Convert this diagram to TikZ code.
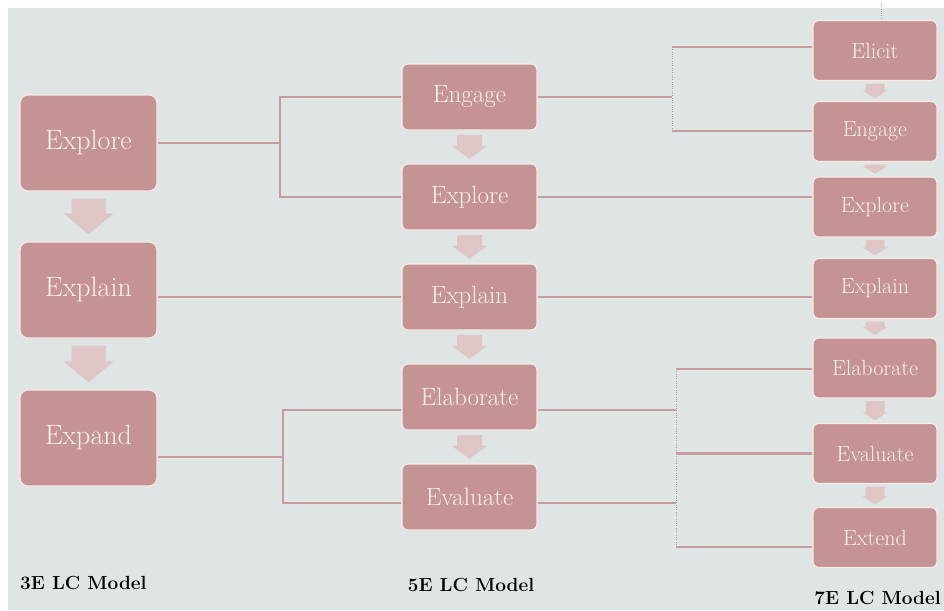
\documentclass[tikz,border=0pt]{standalone}
\usetikzlibrary{calc}
\definecolor{pagebg}{HTML}{DFE5E5}
\definecolor{boxfill}{HTML}{C59393}
\definecolor{boxline}{HTML}{F7EAE4}
\definecolor{boxtext}{HTML}{FBF2EE}
\definecolor{arrowc}{HTML}{DEC6C7}
\definecolor{connc}{HTML}{C69D9C}
\definecolor{dotc}{HTML}{9EA3A4}

% block arrow between two stacked boxes:
% #1 upper node, #2 lower node, #3 shaft half-width, #4 head half-width,
% #5 head length, #6 gap to the boxes
\newcommand\flowarrow[6]{%
  \fill[arrowc] let \p1=(#1.south), \p2=(#2.north) in
    (\x1-#3pt,\y1-#6pt) -- (\x1+#3pt,\y1-#6pt)
    -- (\x1+#3pt,\y2+#5pt+#6pt) -- (\x1+#4pt,\y2+#5pt+#6pt)
    -- (\x1,\y2+#6pt)
    -- (\x1-#4pt,\y2+#5pt+#6pt) -- (\x1-#3pt,\y2+#5pt+#6pt) -- cycle;}

\begin{document}
\begin{tikzpicture}[x=1pt,y=-1pt,
  box/.style={draw=boxline, line width=1.2pt, fill=boxfill, text=boxtext,
              inner sep=0pt, align=center},
  bigbox/.style={box, rounded corners=8pt, minimum width=137pt, minimum height=96pt,
                 font=\fontsize{28}{30}\selectfont},
  midbox/.style={box, rounded corners=6pt, minimum width=135pt, minimum height=66pt,
                 font=\fontsize{25}{27}\selectfont},
  smallbox/.style={box, rounded corners=6pt, minimum width=124pt, minimum height=60pt,
                   font=\fontsize{22}{24}\selectfont},
  conn/.style={draw=connc, line width=2.2pt},
  dotline/.style={draw=dotc, line width=0.7pt, dash pattern=on 1pt off 1.3pt},
  caption/.style={font=\bfseries\fontsize{19}{21}\selectfont, text=black, inner sep=0pt}]

\useasboundingbox (0,0) rectangle (944,610);
\fill[white] (0,0) rectangle (944,610);
\fill[pagebg] (8,8) rectangle (944,610);

% 3E column
\node[bigbox] (exp3)  at (88.5,143) {Explore};
\node[bigbox] (expl3) at (88.5,290) {Explain};
\node[bigbox] (exd3)  at (88.5,438) {Expand};

% 5E column
\node[midbox] (eng5)  at (469.5,97)  {Engage};
\node[midbox] (exp5)  at (469.5,197) {Explore};
\node[midbox] (expl5) at (469.5,297) {Explain};
\node[midbox] (elab5) at (469.5,397) {Elaborate};
\node[midbox] (eval5) at (469.5,497) {Evaluate};

% 7E column
\node[smallbox] (eli7)  at (875,50.5)  {Elicit};
\node[smallbox] (eng7)  at (875,131.5) {Engage};
\node[smallbox] (exp7)  at (875,207)   {Explore};
\node[smallbox] (expl7) at (875,288.5) {Explain};
\node[smallbox] (elab7) at (875,368)   {Elaborate};
\node[smallbox] (eval7) at (875,453.5) {Evaluate};
\node[smallbox] (ext7)  at (875,537.5) {Extend};

% captions
\node[caption, anchor=west] (cap3) at (20,583) {3E LC Model};
\node[caption] (cap5) at (471,585) {5E LC Model};
\node[caption, anchor=east] (cap7) at (941,598) {7E LC Model};

% sequence arrows
\flowarrow{exp3}{expl3}{17}{25}{21}{7}
\flowarrow{expl3}{exd3}{17}{25}{21}{7}
\flowarrow{eng5}{exp5}{12.5}{17.5}{13}{4.5}
\flowarrow{exp5}{expl5}{12.5}{17.5}{13}{4.5}
\flowarrow{expl5}{elab5}{12.5}{17.5}{13}{4.5}
\flowarrow{elab5}{eval5}{12.5}{17.5}{13}{4.5}
\flowarrow{eli7}{eng7}{9.5}{12.5}{8}{2.5}
\flowarrow{eng7}{exp7}{9.5}{12.5}{8}{2.5}
\flowarrow{exp7}{expl7}{9.5}{12.5}{8}{2.5}
\flowarrow{expl7}{elab7}{9.5}{12.5}{8}{2.5}
\flowarrow{elab7}{eval7}{9.5}{12.5}{8}{2.5}
\flowarrow{eval7}{ext7}{9.5}{12.5}{8}{2.5}

% 3E Explore -> 5E Engage / Explore
\coordinate (ja) at (280,143);
\draw[conn] (exp3.east) -- (ja);
\draw[conn] (eng5.west) -| (ja) |- (exp5.west);

% Explain runs straight across
\draw[conn] (expl3.east |- expl5.west) -- (expl5.west);
\draw[conn] (expl5.east) -- (expl5.east -| expl7.west);
\draw[conn] (exp5.east) -- (exp5.east -| exp7.west);

% 5E Engage -> 7E Elicit / Engage
\coordinate (jb)  at (672,97);
\coordinate (jbt) at (672,47);
\coordinate (jbb) at (672,131);
\draw[conn] (eng5.east) -- (jb);
\draw[dotline] (jbt) -- (jbb);
\draw[conn] (jbt) -- (jbt -| eli7.west);
\draw[conn] (jbb) -- (jbb -| eng7.west);

% 3E Expand -> 5E Elaborate / Evaluate
\coordinate (jc)  at (283,457);
\coordinate (jct) at (283,410);
\coordinate (jcb) at (283,503);
\draw[conn] (exd3.east |- jc) -- (jc);
\draw[conn] (jct -| elab5.west) -- (jct) -- (jcb) -- (jcb -| eval5.west);

% 5E Elaborate / Evaluate -> 7E Elaborate / Evaluate / Extend
\coordinate (jdt) at (676,369);
\coordinate (jdb) at (676,547);
\draw[conn] (elab5.east |- jct) -- (jdt |- jct);
\draw[conn] (eval5.east |- jcb) -- (jdt |- jcb);
\draw[dotline] (jdt) -- (jdb);
\draw[conn] (jdt) -- (jdt -| elab7.west);
\draw[conn] (jdt |- eval7.west) -- (eval7.west);
\draw[conn] (jdb) -- (jdb -| ext7.west);

% short guide mark above the 7E column
\coordinate (gt) at (881,4);
\coordinate (gb) at (881,19);
\draw[dotline] (gt) -- (gb);
\end{tikzpicture}
\end{document}
